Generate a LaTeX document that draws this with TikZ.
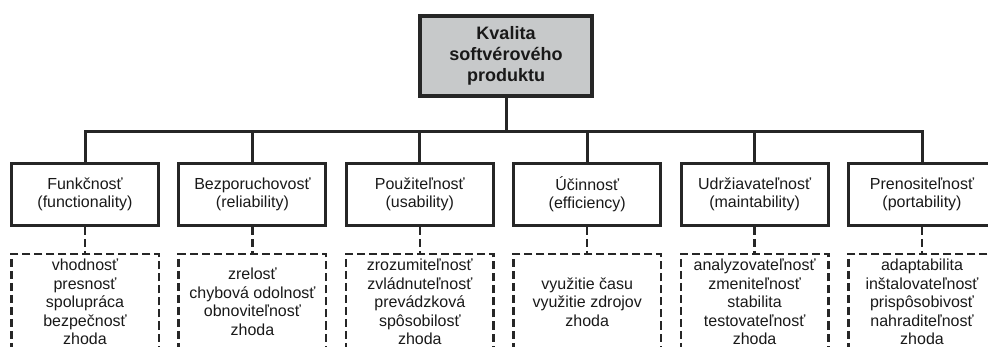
\documentclass[tikz,border=0pt]{standalone}
\usepackage{fontspec}
\setmainfont{Liberation Sans}
\usetikzlibrary{positioning}
\definecolor{boxgray}{RGB}{199,201,202}
\definecolor{linegray}{RGB}{38,38,38}

\begin{document}
\begin{tikzpicture}[x=1pt, y=1pt, node distance=167.4pt,
    topbox/.style={draw=linegray, fill=boxgray, line width=4pt, rectangle, minimum width=172pt, minimum height=80pt, inner sep=0pt, align=center, text=black!90, font=\bfseries\fontsize{18}{21}\selectfont},
    charbox/.style={draw=linegray, line width=3pt, rectangle, minimum width=147pt, minimum height=62pt, inner sep=0pt, align=center, text=black!90, font=\fontsize{16}{18}\selectfont},
    subbox/.style={draw=linegray, line width=2.5pt, dash pattern=on 8pt off 4pt, rectangle, minimum width=147.5pt, minimum height=96pt, inner sep=0pt, align=center, text=black!90, font=\fontsize{16}{18.5}\selectfont},
    link/.style={draw=linegray, line width=3pt},
    sublink/.style={draw=linegray, line width=2.5pt, dash pattern=on 8pt off 4pt}]
        \useasboundingbox (0,0) rectangle (988,-347);
        \coordinate (bus) at (0,-132);

        \node (kval) [topbox] at (506,-56) {Kvalita\\softvérového\\produktu};

        \node (fun) [charbox] at (85,-194.5) {Funkčnosť\\(functionality)};
        \node (bez) [charbox, right of=fun] {Bezporuchovosť\\(reliability)};
        \node (pou) [charbox, right of=bez] {Použiteľnosť\\(usability)};
        \node (uci) [charbox, right of=pou] {Účinnosť\\(efficiency)};
        \node (udr) [charbox, right of=uci] {Udržiavateľnosť\\(maintability)};
        \node (pre) [charbox, right of=udr] {Prenositeľnosť\\(portability)};

        \node (funsub) [subbox, below of=fun, node distance=107.5pt] {vhodnosť\\presnosť\\spolupráca\\bezpečnosť\\zhoda};
        \node (bezsub) [subbox, below of=bez, node distance=107.5pt] {zrelosť\\chybová odolnosť\\obnoviteľnosť\\zhoda};
        \node (pousub) [subbox, below of=pou, node distance=107.5pt] {zrozumiteľnosť\\zvládnuteľnosť\\prevádzková\\spôsobilosť\\zhoda};
        \node (ucisub) [subbox, below of=uci, node distance=107.5pt] {využitie času\\využitie zdrojov\\zhoda};
        \node (udrsub) [subbox, below of=udr, node distance=107.5pt] {analyzovateľnosť\\zmeniteľnosť\\stabilita\\testovateľnosť\\zhoda};
        \node (presub) [subbox, below of=pre, node distance=107.5pt] {adaptabilita\\inštalovateľnosť\\prispôsobivosť\\nahraditeľnosť\\zhoda};

        \draw[link] (kval) -- (kval |- bus);
        \draw[link] (fun.north) |- (kval |- bus) -| (pre.north);
        \draw[link] (bez) -- (bez |- bus);
        \draw[link] (pou) -- (pou |- bus);
        \draw[link] (uci) -- (uci |- bus);
        \draw[link] (udr) -- (udr |- bus);

        \draw[sublink] (fun) -- (funsub);
        \draw[sublink] (bez) -- (bezsub);
        \draw[sublink] (pou) -- (pousub);
        \draw[sublink] (uci) -- (ucisub);
        \draw[sublink] (udr) -- (udrsub);
        \draw[sublink] (pre) -- (presub);
    \end{tikzpicture}
\end{document}
